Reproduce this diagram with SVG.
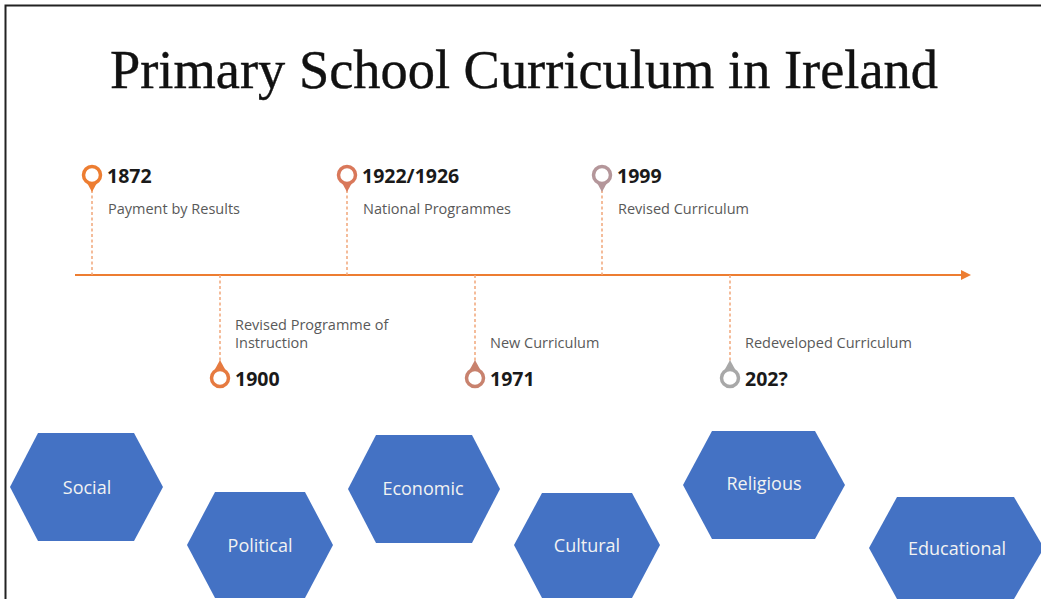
<svg xmlns="http://www.w3.org/2000/svg" width="1041" height="599" viewBox="0 0 1041 599">
<style>
.title{font-family:"Liberation Serif","DejaVu Serif",serif;font-size:55px;fill:#111;stroke:#111;stroke-width:0.4}
.yr{font-family:"Open Sans","Liberation Sans",sans-serif;font-weight:700;font-size:19.5px;fill:#1a1a1a}
.lbl{font-family:"Open Sans","Liberation Sans",sans-serif;font-size:14.5px;fill:#595959}
.hex{fill:#4472C4}
.hx{font-family:"Open Sans","Liberation Sans",sans-serif;font-size:18px;fill:#f2f2f2;text-anchor:middle;dominant-baseline:central}
.dot{stroke:#F1A77A;stroke-width:1.5;stroke-dasharray:3 2.5;fill:none}
.ring{fill:#fff;stroke-width:3.5}
</style>
<defs>
<marker id="arr" viewBox="0 0 10 10" refX="1" refY="5" markerWidth="5" markerHeight="5" orient="auto">
<path d="M0,0 L10,5 L0,10 Z" fill="#ED7D31"/>
</marker>
</defs>
<rect x="0" y="0" width="1041" height="599" fill="#fff"/>
<path d="M5.5,599 L5.5,5.5 L1041,5.5" fill="none" stroke="#222" stroke-width="2"/>
<text id="title" class="title" x="110" y="88" textLength="828" lengthAdjust="spacingAndGlyphs">Primary School Curriculum in Ireland</text>

<g id="connectors">
<line x1="75" y1="275" x2="962" y2="275" stroke="#ED7D31" stroke-width="2" marker-end="url(#arr)"/>
<line class="dot" x1="92" y1="190" x2="92" y2="275"/>
<line class="dot" x1="347" y1="190" x2="347" y2="275"/>
<line class="dot" x1="602" y1="190" x2="602" y2="275"/>
<line class="dot" x1="220" y1="275" x2="220" y2="362"/>
<line class="dot" x1="475" y1="275" x2="475" y2="362"/>
<line class="dot" x1="730" y1="275" x2="730" y2="362"/>
</g>

<g id="ev1872">
<path d="M86,181 L98,181 L92,192 Z" fill="#ED7D31"/>
<circle class="ring" cx="92" cy="175" r="8.5" stroke="#ED7D31"/>
<text class="yr" x="107" y="183">1872</text>
<text class="lbl" x="108" y="214">Payment by Results</text>
</g>
<g id="ev1922">
<path d="M341,181 L353,181 L347,192 Z" fill="#D9785A"/>
<circle class="ring" cx="347" cy="175" r="8.5" stroke="#D9785A"/>
<text class="yr" x="362" y="183">1922/1926</text>
<text class="lbl" x="363" y="214">National Programmes</text>
</g>
<g id="ev1999">
<path d="M596,181 L608,181 L602,192 Z" fill="#B4969A"/>
<circle class="ring" cx="602" cy="175" r="8.5" stroke="#B4969A"/>
<text class="yr" x="617" y="183">1999</text>
<text class="lbl" x="618" y="214">Revised Curriculum</text>
</g>
<g id="ev1900">
<path d="M214,371 L226,371 L220,360 Z" fill="#E67A40"/>
<circle class="ring" cx="220" cy="378" r="8.5" stroke="#E67A40"/>
<text class="yr" x="235" y="386">1900</text>
<text class="lbl" x="235" y="330">Revised Programme of</text>
<text class="lbl" x="235" y="348">Instruction</text>
</g>
<g id="ev1971">
<path d="M469,371 L481,371 L475,360 Z" fill="#C8826E"/>
<circle class="ring" cx="475" cy="378" r="8.5" stroke="#C8826E"/>
<text class="yr" x="490" y="386">1971</text>
<text class="lbl" x="490" y="348">New Curriculum</text>
</g>
<g id="ev202x">
<path d="M724,371 L736,371 L730,360 Z" fill="#A8A8A8"/>
<circle class="ring" cx="730" cy="378" r="8.5" stroke="#A8A8A8"/>
<text class="yr" x="745" y="386">202?</text>
<text class="lbl" x="745" y="348">Redeveloped Curriculum</text>
</g>

<g id="social">
<polygon class="hex" points="10,487 38,433 134,433 163,487 134,541 38,541"/>
<text class="hx" x="87" y="487">Social</text>
</g>
<g id="political">
<polygon class="hex" points="187,545 215,492 305,492 333,545 305,598 215,598"/>
<text class="hx" x="260" y="545">Political</text>
</g>
<g id="economic">
<polygon class="hex" points="348,489 376,435 472,435 500,489 472,543 376,543"/>
<text class="hx" x="423" y="488">Economic</text>
</g>
<g id="cultural">
<polygon class="hex" points="514,545 542,493 632,493 660,545 632,598 542,598"/>
<text class="hx" x="587" y="545">Cultural</text>
</g>
<g id="religious">
<polygon class="hex" points="683,485 712,431 815,431 845,485 815,539 712,539"/>
<text class="hx" x="764" y="483">Religious</text>
</g>
<g id="educational">
<polygon class="hex" points="869,548 897,497 1014,497 1044,548 1014,599 897,599"/>
<text class="hx" x="957" y="548">Educational</text>
</g>
</svg>
